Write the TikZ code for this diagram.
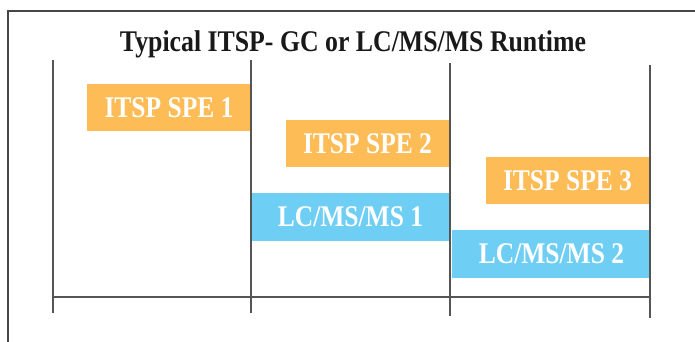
\documentclass[tikz,border=0pt]{standalone}
\usepackage{fontspec}
\setmainfont{Liberation Serif}
\definecolor{speorange}{RGB}{253,188,85}
\definecolor{lcblue}{RGB}{110,206,243}
\definecolor{axisgray}{RGB}{85,85,85}
\definecolor{framegray}{RGB}{70,70,70}
\tikzset{
  barbox/.style={inner sep=0pt, outer sep=0pt, text=white, font=\fontsize{30}{30}\selectfont\bfseries},
  spebox/.style={barbox, fill=speorange, minimum height=47pt},
  lcbox/.style={barbox, fill=lcblue, minimum height=48pt},
  gridline/.style={draw=axisgray, line width=1.4pt},
  framestyle/.style={draw=framegray, line width=1.4pt},
}
\newcommand{\condensed}[1]{\scalebox{0.85}[1]{#1}}
\begin{document}
\begin{tikzpicture}[x=1pt,y=-1pt]
\useasboundingbox (0,0) rectangle (695,341);
% frame
\coordinate (fbl) at (8,345);
\coordinate (ftl) at (8,11);
\coordinate (ftr) at (699,11);
\draw[framestyle] (fbl) -- (ftl) -- (ftr);
% title
\node[font=\fontsize{30}{30}\selectfont\bfseries, text=black!90, inner sep=0pt] (title) at (353,44) {\scalebox{0.86}[1]{Typical ITSP- GC or LC/MS/MS Runtime}};
% boxes
\node[spebox, minimum width=164pt] (spe1) at (169,107.5) {\condensed{ITSP SPE 1}};
\node[spebox, minimum width=163pt] (spe2) at (367.5,143.5) {\condensed{ITSP SPE 2}};
\node[spebox, minimum width=163pt] (spe3) at (567.5,180.5) {\condensed{ITSP SPE 3}};
\node[lcbox, minimum width=197pt] (lc1) at (350.5,217) {\condensed{LC/MS/MS 1}};
\node[lcbox, minimum width=199pt] (lc2) at (551.5,254) {\condensed{LC/MS/MS 2}};
% grid lines
\coordinate (v1t) at (53,60);  \coordinate (v1b) at (53,313);
\coordinate (v2t) at (251,60); \coordinate (v2b) at (251,313);
\coordinate (v3t) at (450,63); \coordinate (v3b) at (450,316);
\coordinate (v4t) at (650,65); \coordinate (v4b) at (650,318);
\coordinate (axl) at (53,297); \coordinate (axr) at (650,297);
\draw[gridline] (v1t) -- (v1b);
\draw[gridline] (v2t) -- (v2b);
\draw[gridline] (v3t) -- (v3b);
\draw[gridline] (v4t) -- (v4b);
\draw[gridline] (axl) -- (axr);
\end{tikzpicture}
\end{document}
